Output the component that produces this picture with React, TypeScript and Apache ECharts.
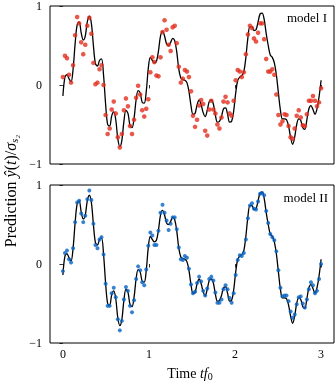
import React, { useEffect, useRef } from "react";
import * as echarts from "echarts";

const T_END = 3;
const xTicks = [0, 1, 2, 3];

// true signal (black curve), sampled on 128 equally spaced times in [0, 3]
const truth = [
  -0.14, 0.10, 0.13, 0.08, 0.04, 0.20, 0.52, 0.76, 0.80, 0.66, 0.57, 0.62, 0.80, 0.87, 0.78, 0.50,
  0.27, 0.24, 0.31, 0.33, 0.12, -0.24, -0.50, -0.52, -0.39, -0.34, -0.44, -0.68, -0.78, -0.70, -0.46, -0.32,
  -0.36, -0.51, -0.54, -0.42, -0.19, -0.07, -0.10, -0.22, -0.23, -0.08, 0.21, 0.35, 0.31, 0.28, 0.30, 0.43,
  0.62, 0.68, 0.62, 0.52, 0.50, 0.54, 0.59, 0.56, 0.42, 0.20, 0.09, 0.07, 0.06, 0.03, -0.08, -0.26,
  -0.37, -0.36, -0.25, -0.19, -0.25, -0.35, -0.40, -0.32, -0.21, -0.19, -0.24, -0.38, -0.47, -0.46, -0.40, -0.30,
  -0.29, -0.37, -0.47, -0.46, -0.33, -0.10, 0.06, 0.10, 0.12, 0.17, 0.35, 0.60, 0.74, 0.74, 0.69, 0.70,
  0.80, 0.90, 0.91, 0.83, 0.65, 0.50, 0.38, 0.35, 0.28, 0.13, -0.10, -0.32, -0.43, -0.43, -0.44, -0.52,
  -0.66, -0.75, -0.66, -0.50, -0.43, -0.45, -0.54, -0.56, -0.44, -0.30, -0.26, -0.31, -0.37, -0.30, -0.15, 0.06,
];

// model I predictions (red dots)
const modelI = [
  0.10, 0.37, 0.34, 0.13, 0.03, 0.25, 0.63, 0.86, 0.78, 0.54, 0.39, 0.51, 0.75, 0.85, 0.65, 0.28,
  0.01, 0.03, 0.20, 0.25, 0.00, -0.38, -0.62, -0.55, -0.31, -0.21, -0.36, -0.66, -0.79, -0.62, -0.32, -0.17,
  -0.27, -0.52, -0.62, -0.44, -0.16, -0.01, -0.12, -0.32, -0.40, -0.30, -0.18, 0.16, 0.35, 0.29, 0.12, 0.11,
  0.35, 0.67, 0.82, 0.70, 0.51, 0.43, 0.73, 0.75, 0.53, 0.23, 0.03, 0.08, 0.19, 0.17, 0.10, -0.08,
  -0.39, -0.53, -0.44, -0.26, -0.19, -0.24, -0.58, -0.64, -0.31, -0.20, -0.31, -0.36, -0.50, -0.55, -0.41, -0.21,
  -0.15, -0.22, -0.36, -0.39, -0.20, 0.06, 0.19, 0.17, 0.10, 0.16, 0.39, 0.64, 0.75, 0.72, 0.59, 0.55,
  0.66, 0.78, 0.78, 0.58, 0.33, 0.17, 0.17, 0.20, 0.13, -0.12, -0.38, -0.50, -0.46, -0.37, -0.38, -0.52,
  -0.66, -0.68, -0.55, -0.39, -0.32, -0.41, -0.51, -0.52, -0.37, -0.20, -0.20, -0.14, -0.20, -0.27, -0.22, -0.04,
];

// model II predictions (blue dots)
const modelII = [
  -0.09, 0.14, 0.17, 0.06, 0.02, 0.20, 0.53, 0.78, 0.80, 0.64, 0.53, 0.61, 0.82, 0.93, 0.81, 0.51,
  0.24, 0.20, 0.31, 0.34, 0.12, -0.25, -0.53, -0.53, -0.37, -0.30, -0.42, -0.70, -0.84, -0.72, -0.45, -0.29,
  -0.34, -0.53, -0.61, -0.46, -0.19, -0.03, -0.08, -0.23, -0.27, -0.07, 0.23, 0.40, 0.36, 0.24, 0.24, 0.42,
  0.65, 0.75, 0.65, 0.55, 0.43, 0.51, 0.59, 0.59, 0.44, 0.21, 0.06, 0.05, 0.10, 0.08, -0.06, -0.26,
  -0.37, -0.35, -0.24, -0.16, -0.22, -0.34, -0.40, -0.31, -0.19, -0.16, -0.21, -0.36, -0.49, -0.49, -0.45, -0.32,
  -0.27, -0.32, -0.43, -0.49, -0.37, -0.14, 0.05, 0.11, 0.10, 0.14, 0.31, 0.58, 0.74, 0.77, 0.70, 0.69,
  0.79, 0.89, 0.90, 0.87, 0.67, 0.52, 0.38, 0.34, 0.30, 0.16, -0.08, -0.30, -0.41, -0.40, -0.40, -0.47,
  -0.60, -0.68, -0.64, -0.51, -0.42, -0.41, -0.50, -0.55, -0.45, -0.32, -0.23, -0.27, -0.37, -0.34, -0.19, 0.00,
];

const FONT = "Liberation Serif";

export default function App() {
  const ref = useRef<HTMLDivElement>(null);
  useEffect(() => {
    const chart = echarts.init(ref.current!, null, { renderer: "svg" });
    const times = truth.map((_, i) => (i * T_END) / (truth.length - 1));
    const pair = (arr: number[]) => arr.map((v, i) => [times[i], v]);

    const grids = [
      { left: 50, top: 5, width: 284, height: 159 },
      { left: 50, top: 185, width: 284, height: 158 },
    ].map((g) => ({ ...g, show: true, borderColor: "#000", borderWidth: 1, backgroundColor: "transparent" }));

    const xAxis = [0, 1].map((gi) => ({
      type: "value",
      gridIndex: gi,
      min: -0.15,
      max: 3.15,
      splitLine: { show: false },
      axisLine: { show: false },
      axisTick: { show: true, inside: false, length: 3.5, lineStyle: { color: "#000", width: 0.8 }, customValues: xTicks },
      axisLabel: {
        show: gi === 1,
        customValues: xTicks,
        color: "#000",
        fontFamily: FONT,
        fontSize: 12,
        margin: 5,
      },
    }));

    const yAxis = [0, 1].map((gi) => ({
      type: "value",
      gridIndex: gi,
      min: -1,
      max: 1,
      interval: 1,
      splitLine: { show: false },
      axisLine: { show: false },
      axisTick: { show: true, inside: false, length: 3.5, lineStyle: { color: "#000", width: 0.8 } },
      axisLabel: {
        color: "#000",
        fontFamily: FONT,
        fontSize: 12,
        margin: 8,
        formatter: (v: number) => String(v).replace("-", "\u2212"),
      },
    }));

    const option = {
      animation: false,
      grid: grids,
      xAxis,
      yAxis,
      series: [
        {
          type: "line",
          xAxisIndex: 0,
          yAxisIndex: 0,
          data: pair(truth),
          showSymbol: false,
          smooth: 0.35,
          lineStyle: { color: "#000", width: 1.3 },
          z: 2,
        },
        {
          type: "scatter",
          xAxisIndex: 0,
          yAxisIndex: 0,
          data: pair(modelI),
          symbolSize: 4.6,
          itemStyle: { color: "#e2301f" },
          z: 3,
        },
        {
          type: "line",
          xAxisIndex: 1,
          yAxisIndex: 1,
          data: pair(truth),
          showSymbol: false,
          smooth: 0.35,
          lineStyle: { color: "#000", width: 1.3 },
          z: 2,
        },
        {
          type: "scatter",
          xAxisIndex: 1,
          yAxisIndex: 1,
          data: pair(modelII),
          symbolSize: 4,
          itemStyle: { color: "#0763c4" },
          z: 3,
        },
      ],
      graphic: [
        {
          type: "text",
          right: 9,
          top: 11,
          style: { text: "model I", fill: "#000", font: `13px ${FONT}` },
        },
        {
          type: "text",
          right: 8,
          top: 191,
          style: { text: "model II", fill: "#000", font: `13px ${FONT}` },
        },
        {
          type: "text",
          x: 190,
          y: 373,
          style: {
            text: "{a|Time }{i|tf}{s|0}",
            align: "center",
            verticalAlign: "middle",
            rich: {
              a: { fontFamily: FONT, fontSize: 14, color: "#000" },
              i: { fontFamily: FONT, fontSize: 14, fontStyle: "italic", color: "#000" },
              s: { fontFamily: FONT, fontSize: 10, color: "#000", padding: [6, 0, 0, 0] },
            },
          },
        },
        {
          type: "text",
          x: 10,
          y: 191,
          rotation: Math.PI / 2,
          style: {
            text: "{a|Prediction }{i|\u0177}{a|(}{i|t}{a|)/}{i|\u03c3}{s|s\u2082}",
            align: "center",
            verticalAlign: "middle",
            rich: {
              a: { fontFamily: FONT, fontSize: 16, color: "#000" },
              i: { fontFamily: FONT, fontSize: 16, fontStyle: "italic", color: "#000" },
              s: { fontFamily: FONT, fontSize: 11, fontStyle: "italic", color: "#000", padding: [7, 0, 0, 0] },
            },
          },
        },
      ],
    };
    chart.setOption(option as any);
    return () => chart.dispose();
  }, []);
  return <div ref={ref} style={{ position: "fixed", left: 0, top: 0, width: 336, height: 382 }} />;
}
